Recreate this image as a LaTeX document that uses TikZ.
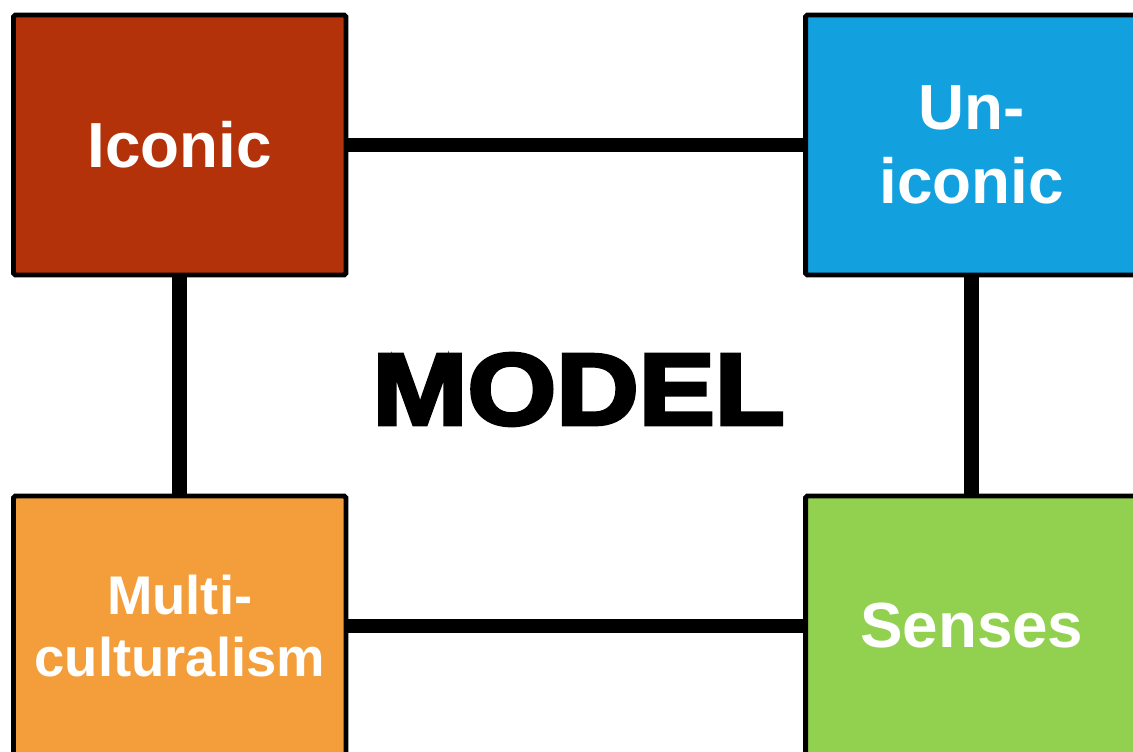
\documentclass[tikz,border=0pt]{standalone}
\usepackage{fontspec}
\setmainfont{Liberation Sans}
\newfontfamily\heavyfont[FakeBold=3.5]{Liberation Sans Bold}
\definecolor{iconicred}{HTML}{B3320A}
\definecolor{uniconicblue}{HTML}{13A0DE}
\definecolor{multiorange}{HTML}{F39D3B}
\definecolor{sensesgreen}{HTML}{92D050}

\begin{document}
\begin{tikzpicture}[x=0.02cm, y=-0.02cm,
    box/.style={draw=black, line width=2.8pt, rounded corners=1pt, inner sep=0pt,
      minimum width=6.65cm, minimum height=5.2cm, text=white, align=center,
      font=\bfseries\fontsize{36.3}{42}\selectfont},
    link/.style={line width=8.5pt}]
    \clip (0,0) rectangle (1133,751);
    \node[box, fill=iconicred] (iconic) at (179.75,145) {Iconic};
    \node[box, fill=uniconicblue] (uniconic) at (971.75,145) {Un-\\iconic};
    \node[box, fill=multiorange, font=\bfseries\fontsize{31}{35}\selectfont] (multi) at (179.75,626) {Multi-\\culturalism};
    \node[box, fill=sensesgreen] (senses) at (971.75,626) {Senses};
    \node[font=\heavyfont\fontsize{58}{58}\selectfont] (model) at (578.5,389.5) {\scalebox{1.12}[1]{MODEL}};
    \draw[link] (iconic) -- (uniconic);
    \draw[link] (iconic) -- (multi);
    \draw[link] (uniconic) -- (senses);
    \draw[link] (multi) -- (senses);
  \end{tikzpicture}
\end{document}
